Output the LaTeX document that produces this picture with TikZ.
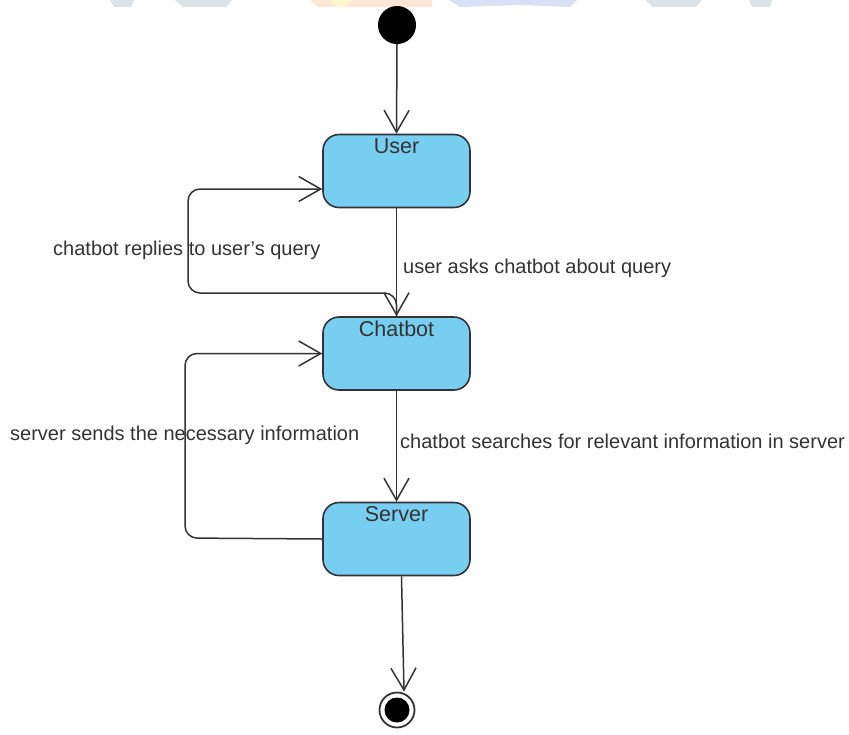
\documentclass[tikz,border=0pt]{standalone}
\usepackage{fontspec}
\setmainfont{Liberation Sans}
\usetikzlibrary{arrows.meta,calc}
\definecolor{boxfill}{HTML}{78CEF1}
\definecolor{ink}{HTML}{333333}
\definecolor{wmgray}{HTML}{DCE3E6}
\definecolor{wmorange}{HTML}{FDE7D7}
\definecolor{wmyellow}{HTML}{FDF5CF}
\definecolor{wmblue}{HTML}{D9DFF5}
\tikzset{
  statebox/.style={draw=ink, line width=1.6pt, fill=boxfill, rounded corners=16pt,
    minimum width=147pt, minimum height=73pt, inner sep=0pt},
  statename/.style={font=\fontsize{21.5}{25}\selectfont, text=ink, inner sep=0pt, anchor=north, yshift=-5pt},
  conn/.style={draw=ink, line width=1.5pt,
    -{Straight Barb[length=22pt, width=25pt, line width=1.5pt]}},
  loopconn/.style={conn, rounded corners=12pt},
  translabel/.style={font=\fontsize{20}{24}\selectfont, text=ink, inner sep=0pt, anchor=west},
}
\begin{document}
\begin{tikzpicture}[x=1pt, y=-1pt]
\useasboundingbox[fill=white] (0,0) rectangle (849,734);

% faint logo strip along the top edge
\fill[wmgray] (110,0) -- (134,0) -- (131,7) -- (114,7) -- cycle;
\fill[wmgray] (175,0) -- (232,0) -- (226,7) -- (183,7) -- cycle;
\fill[wmorange] (310,0) -- (432,0) -- (432,7) -- (318,7) -- cycle;
\fill[wmyellow] (330,0) -- (352,0) -- (346,7) -- (336,7) -- cycle;
\fill[wmblue] (449,0) -- (577,0) -- (570,7) -- (520,5) -- (460,7) -- cycle;
\fill[wmgray] (646,0) -- (702,0) -- (696,7) -- (652,7) -- cycle;
\fill[wmgray] (749,0) -- (772,0) -- (770,7) -- (752,7) -- cycle;

% states
\node[circle, fill=black, minimum size=38pt, inner sep=0pt] (init) at (397,25) {};
\node[statebox, label={[statename]north:User}] (user) at (396.5,171) {};
\node[statebox, label={[statename]north:Chatbot}] (chat) at (396.5,353.5) {};
\node[statebox, label={[statename]north:Server}] (srv) at (396.5,539) {};
\node[circle, draw=ink, line width=1.8pt, fill=white, minimum size=35pt, inner sep=0pt] (fin) at (397,710) {};
\node[circle, fill=black, minimum size=25pt, inner sep=0pt] (fincore) at (fin.center) {};

% bend points of the two return loops
\coordinate (replyturn) at (188,293);
\coordinate (sendturn) at (185,538);

% transitions
\draw[conn] (init.south) -- (user.north);
\draw[conn] (user.south) -- (chat.north);
\draw[conn] (chat.south) -- (srv.north);
\draw[conn] ($(srv.south)+(5,0)$) -- ($(fin.north)+(7,0)$);
\draw[loopconn] (chat.north) |- (replyturn) |- ($(user.west)+(0,18)$);
\draw[loopconn] (srv.west) -- (sendturn) |- (chat.west);

% transition labels
\node[translabel] (lreply) at (53,250) {chatbot replies to user's query};
\node[translabel] (lask) at (403,268) {user asks chatbot about query};
\node[translabel] (lsend) at (10,435) {server sends the necessary information};
\node[translabel] (lsearch) at (400,441) {chatbot searches for relevant information in server};
\end{tikzpicture}
\end{document}
